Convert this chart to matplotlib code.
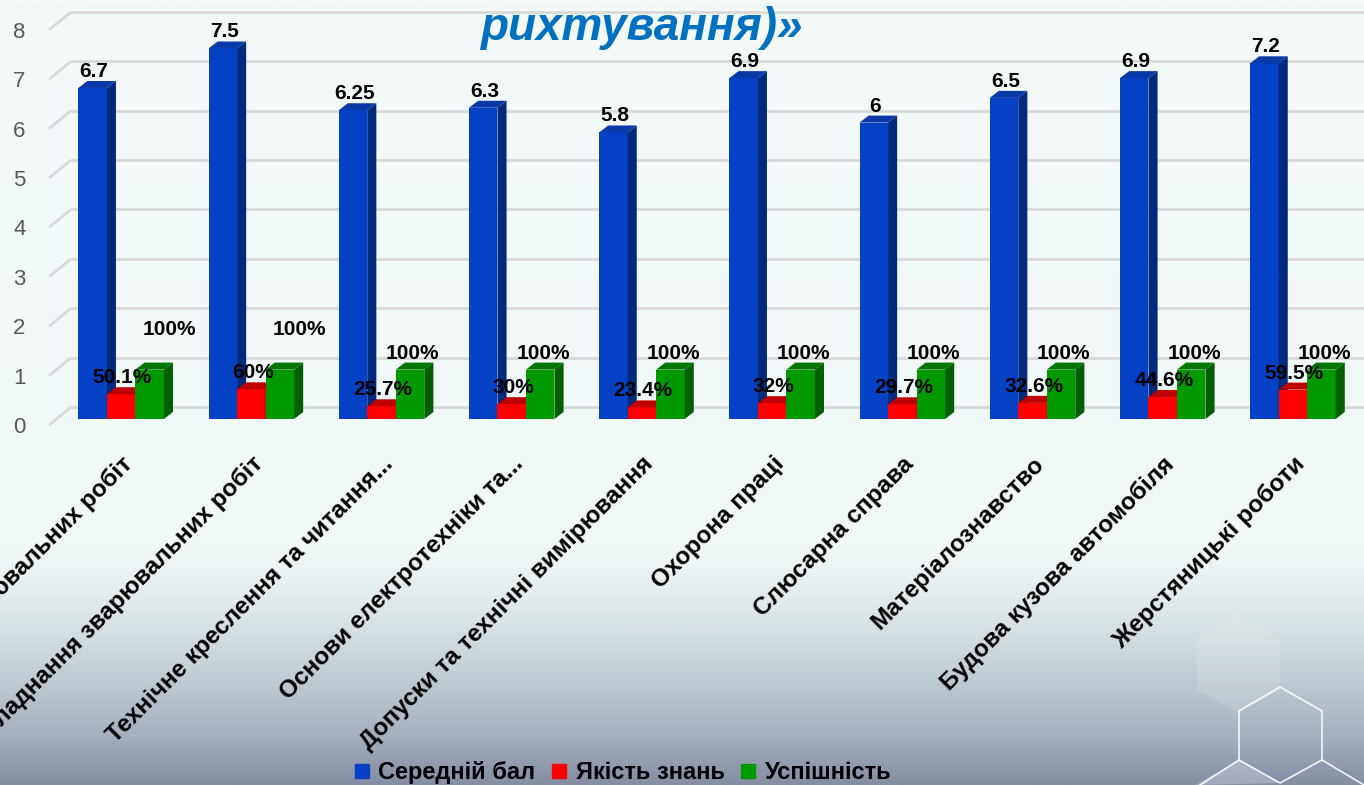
import numpy as np
import matplotlib
matplotlib.use("Agg")
import matplotlib.pyplot as plt
from matplotlib.patches import Polygon
from matplotlib.lines import Line2D
from matplotlib.colors import LinearSegmentedColormap
from matplotlib.transforms import ScaledTranslation

plt.rcParams['font.family'] = ['Liberation Sans', 'DejaVu Sans']

# subjects and results
subjects = ["Технологія зварювальних робіт",
            "Обладнання зварювальних робіт",
            "Технічне креслення та читання...",
            "Основи електротехніки та...",
            "Допуски та технічні вимірювання",
            "Охорона праці",
            "Слюсарна справа",
            "Матеріалознавство",
            "Будова кузова автомобіля",
            "Жерстяницькі роботи"]
avg_score = [6.7, 7.5, 6.25, 6.3, 5.8, 6.9, 6.0, 6.5, 6.9, 7.2]
quality = [0.501, 0.60, 0.257, 0.30, 0.234, 0.32, 0.297, 0.326, 0.446, 0.595]
success = [1.0, 1.0, 1.0, 1.0, 1.0, 1.0, 1.0, 1.0, 1.0, 1.0]
series_names = ["Середній бал", "Якість знань", "Успішність"]
title_tail = "рихтування)»"

W, H = 1364, 785
fig = plt.figure(figsize=(W / 100, H / 100), dpi=100)

# background gradient + hexagon decoration
bg = fig.add_axes([0, 0, 1, 1], zorder=-10)
cmap = LinearSegmentedColormap.from_list("bg", [
    (0.0, "#f4fafa"), (0.70, "#f1f8f8"), (0.77, "#e0eaec"),
    (0.86, "#c3cfd5"), (0.94, "#a5b0bd"), (1.0, "#858ea3")])
bg.imshow(np.linspace(0, 1, 400).reshape(-1, 1), aspect="auto", cmap=cmap,
          extent=[0, W, H, 0])
bg.set_xlim(0, W)
bg.set_ylim(H, 0)
bg.axis("off")
hexa = [(1280, 687), (1322, 711), (1322, 760), (1280, 783), (1239, 760), (1239, 711)]
bg.add_patch(Polygon([(1239, 760), (1280, 783), (1195, 785)], closed=True,
                     facecolor="white", alpha=0.25, edgecolor="none"))
bg.add_patch(Polygon(hexa, closed=True, fill=False, edgecolor="white", lw=1.2, alpha=0.9))
bg.plot([1239, 1200], [760, 785], color="white", lw=1.2, alpha=0.9)
bg.plot([1322, 1364], [760, 785], color="white", lw=1.2, alpha=0.9)
bg.add_patch(Polygon([(1238, 615), (1280, 638), (1280, 690), (1238, 713), (1197, 690), (1197, 638)],
                     closed=True, facecolor="white", alpha=0.12, edgecolor="none"))

# main axes
ax = fig.add_axes([56 / W, (H - 419) / H, 1302 / W, 395.2 / H])
ax.patch.set_alpha(0)
ax.set_xlim(-0.5, 9.5)
ax.set_ylim(0, 8)
for s in ax.spines.values():
    s.set_visible(False)

# 3d-ish depth (data units)
bw = 0.219
ddx, ddy = 0.07, 0.142
gx0, gx1 = -0.553, -0.384
g_front, g_back = -0.121, 0.243

for v in range(9):
    ax.plot([gx0, gx1], [v + g_front, v + g_back], color="#d9d9d9", lw=2,
            clip_on=False, zorder=0.5, solid_capstyle="butt")
    ax.plot([gx1, 9.6], [v + g_back, v + g_back], color="#d9d9d9", lw=2,
            clip_on=False, zorder=0.5, solid_capstyle="butt")

styles = [
    (avg_score, -bw, "#0441c4", "#022a7c", "#0a3aa8"),
    (quality, 0.0, "#ff0000", "#a80000", "#c00000"),
    (success, bw, "#009a00", "#005f00", "#007800"),
]

x = np.arange(len(subjects))
for k, (vals, off, front, side, top) in enumerate(styles):
    z = 2 + k
    ax.bar(x + off, vals, width=bw, color=front, zorder=z, linewidth=0)
    for i, h in enumerate(vals):
        x0 = i + off - bw / 2
        x1 = x0 + bw
        ax.add_patch(Polygon([(x1, 0), (x1 + ddx, ddy), (x1 + ddx, h + ddy), (x1, h)],
                             closed=True, facecolor=side, edgecolor="none", zorder=z))
        ax.add_patch(Polygon([(x0, h), (x0 + ddx, h + ddy), (x1 + ddx, h + ddy), (x1, h)],
                             closed=True, facecolor=top, edgecolor="none", zorder=z))

lab_kw = dict(ha="center", va="bottom", fontsize=15, fontweight="bold",
              color="black", zorder=10, textcoords="offset points")
for i in range(len(subjects)):
    ax.annotate(f"{avg_score[i]:g}", (i - bw, avg_score[i] + ddy), xytext=(1, 0), **lab_kw)
    ax.annotate(f"{quality[i] * 100:g}%", (i, quality[i] + ddy), xytext=(1, 0), **lab_kw)
    off = (14, 17) if i < 2 else (2, 0)
    ax.annotate(f"{success[i] * 100:g}%", (i + bw, success[i] + ddy), xytext=off, **lab_kw)

ax.set_xticks(x)
ax.set_xticklabels(subjects, rotation=45, ha="right", va="top",
                   rotation_mode="anchor", fontsize=17.5, fontweight="bold")
ax.tick_params(axis="x", length=0, pad=24)
for lab in ax.get_xticklabels():
    lab.set_transform(lab.get_transform() + ScaledTranslation(0.0, 0, fig.dpi_scale_trans))

ax.set_yticks(range(9))
ax.tick_params(axis="y", length=0, pad=22, labelsize=16, labelcolor="#595959")
for lab in ax.get_yticklabels():
    lab.set_transform(lab.get_transform() + ScaledTranslation(0, -0.06, fig.dpi_scale_trans))

handles = [Line2D([], [], marker="s", linestyle="none", markersize=10,
                  color=c[2]) for c in styles]
fig.legend(handles, series_names, loc="center", bbox_to_anchor=(0.456, 0.016),
           ncol=3, frameon=False, prop={"weight": "bold", "size": 17},
           handlelength=0.8, handletextpad=0.3, columnspacing=0.6,
           borderaxespad=0)

fig.text(480 / W, 1 - 40 / H, title_tail, color="#0070c0", fontsize=33,
         fontweight="bold", fontstyle="italic", ha="left", va="baseline")

fig.savefig("out.png", dpi=100)
